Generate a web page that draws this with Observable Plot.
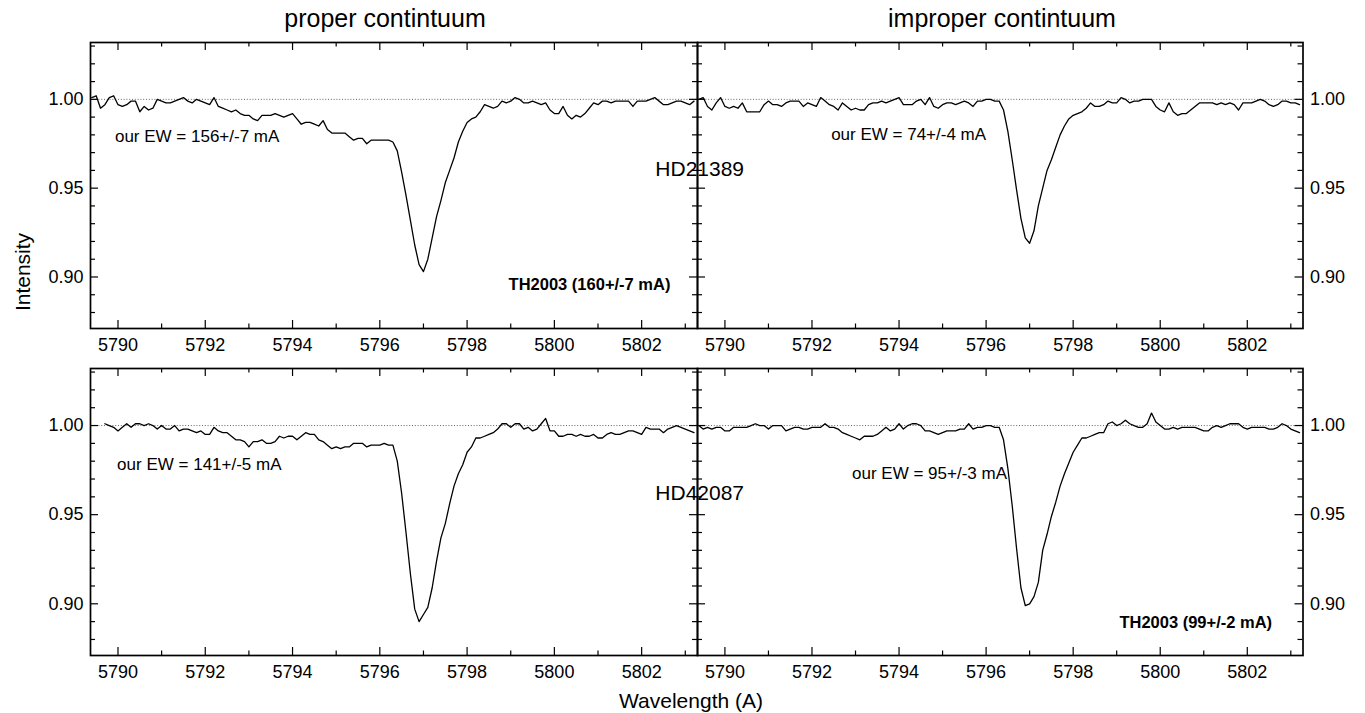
<!DOCTYPE html>
<html><head><meta charset="utf-8">
<script src="https://cdn.jsdelivr.net/npm/d3@7"></script>
<script src="https://cdn.jsdelivr.net/npm/@observablehq/plot@0.6"></script>
<style>
body{margin:0;background:#fff;}
#chart{position:relative;width:1365px;height:713px;font-family:"Liberation Sans",Arial,Helvetica,sans-serif;color:#000;overflow:hidden;}
#chart svg{position:absolute;left:0;top:0;}
.lbl{position:absolute;white-space:nowrap;transform:translate(-50%,-50%);line-height:1;}
</style></head><body><div id="chart"></div>
<script>
// Shared wavelength grid (Angstrom)
const wavelengths = [5789.4,5789.5,5789.6,5789.7,5789.8,5789.9,
5790.0,5790.1,5790.2,5790.3,5790.4,5790.5,5790.6,5790.7,5790.8,5790.9,
5791.0,5791.1,5791.2,5791.3,5791.4,5791.5,5791.6,5791.7,5791.8,5791.9,
5792.0,5792.1,5792.2,5792.3,5792.4,5792.5,5792.6,5792.7,5792.8,5792.9,
5793.0,5793.1,5793.2,5793.3,5793.4,5793.5,5793.6,5793.7,5793.8,5793.9,
5794.0,5794.1,5794.2,5794.3,5794.4,5794.5,5794.6,5794.7,5794.8,5794.9,
5795.0,5795.1,5795.2,5795.3,5795.4,5795.5,5795.6,5795.7,5795.8,5795.9,
5796.0,5796.1,5796.2,5796.3,5796.4,5796.5,5796.6,5796.7,5796.8,5796.9,
5797.0,5797.1,5797.2,5797.3,5797.4,5797.5,5797.6,5797.7,5797.8,5797.9,
5798.0,5798.1,5798.2,5798.3,5798.4,5798.5,5798.6,5798.7,5798.8,5798.9,
5799.0,5799.1,5799.2,5799.3,5799.4,5799.5,5799.6,5799.7,5799.8,5799.9,
5800.0,5800.1,5800.2,5800.3,5800.4,5800.5,5800.6,5800.7,5800.8,5800.9,
5801.0,5801.1,5801.2,5801.3,5801.4,5801.5,5801.6,5801.7,5801.8,5801.9,
5802.0,5802.1,5802.2,5802.3,5802.4,5802.5,5802.6,5802.7,5802.8,5802.9,
5803.0,5803.1,5803.2];

// HD21389, proper continuum
const hd21389Proper = [1.001,1.002,0.995,0.997,1.001,1.002,0.997,0.996,0.997,0.999,
0.999,0.993,0.996,0.994,0.995,1.000,0.999,0.998,0.998,0.999,
1.000,1.001,0.999,0.998,1.000,0.999,0.998,0.997,1.001,0.996,
0.995,0.994,0.993,0.994,0.992,0.991,0.991,0.989,0.988,0.991,
0.991,0.991,0.992,0.991,0.990,0.991,0.992,0.989,0.986,0.987,
0.987,0.986,0.985,0.988,0.983,0.981,0.981,0.981,0.981,0.979,
0.977,0.978,0.978,0.975,0.977,0.977,0.977,0.977,0.977,0.976,
0.971,0.959,0.946,0.932,0.918,0.907,0.903,0.910,0.922,0.934,
0.943,0.953,0.960,0.967,0.976,0.982,0.987,0.989,0.990,0.993,
0.997,0.996,0.995,0.996,0.999,0.998,0.999,1.001,1.000,0.998,
0.998,0.999,0.998,0.997,0.998,0.994,0.992,0.992,0.996,0.991,
0.989,0.991,0.990,0.992,0.995,0.998,0.997,0.999,0.999,0.998,
0.999,0.999,0.999,0.999,0.996,0.999,0.999,0.999,1.000,1.001,
0.999,0.997,0.997,0.998,0.999,0.999,0.998,0.997,0.999];

// HD21389, improper continuum
const hd21389Improper = [1.000,1.001,0.996,0.994,0.998,1.001,0.996,0.995,0.996,0.995,
0.998,0.993,0.993,0.993,0.993,0.997,0.999,0.997,0.997,0.996,
0.998,0.999,0.999,0.999,0.996,0.998,0.997,0.996,1.001,0.999,
0.997,0.996,0.994,0.998,0.996,0.994,0.995,0.994,0.994,0.997,
0.998,0.998,0.999,0.998,0.999,1.000,1.001,0.997,0.997,0.997,
0.999,1.000,0.997,1.001,0.996,0.995,0.997,0.998,0.998,0.997,
0.998,0.999,0.998,0.996,0.999,0.999,1.000,1.000,0.999,0.999,
0.994,0.982,0.966,0.949,0.933,0.922,0.919,0.926,0.940,0.950,
0.960,0.966,0.973,0.980,0.985,0.989,0.991,0.992,0.993,0.995,
0.998,0.996,0.996,0.997,0.999,0.998,0.998,1.001,1.000,0.998,
0.999,0.999,1.000,1.000,1.000,0.996,0.994,0.993,0.998,0.993,
0.991,0.992,0.992,0.994,0.996,0.998,0.998,0.998,0.998,0.997,
0.998,0.997,0.998,0.997,0.994,0.998,0.998,0.998,0.999,1.000,
0.999,0.997,0.996,0.997,0.999,0.999,0.998,0.998,0.997];

// HD42087, proper continuum (spectrum starts at 5789.7)
const hd42087Proper = [null,null,null,1.001,1.000,0.999,0.997,0.999,1.001,0.999,
1.001,1.001,1.000,1.001,1.000,0.998,1.000,0.998,0.998,1.000,
0.997,0.998,0.998,0.997,0.996,0.997,0.995,0.995,0.999,0.997,
0.996,0.996,0.994,0.992,0.992,0.991,0.988,0.991,0.991,0.992,
0.990,0.990,0.991,0.994,0.993,0.994,0.994,0.992,0.994,0.996,
0.995,0.995,0.992,0.991,0.989,0.987,0.988,0.987,0.988,0.988,
0.990,0.990,0.990,0.988,0.989,0.989,0.989,0.990,0.989,0.989,
0.980,0.962,0.940,0.917,0.897,0.890,0.894,0.898,0.909,0.924,
0.937,0.945,0.956,0.966,0.973,0.978,0.985,0.988,0.993,0.993,
0.994,0.995,0.996,0.998,1.001,1.001,0.999,1.001,1.001,0.998,
0.999,0.997,0.998,1.001,1.004,0.997,0.997,0.994,0.994,0.995,
0.995,0.994,0.995,0.994,0.994,0.995,0.993,0.993,0.995,0.996,
0.995,0.995,0.996,0.997,0.997,0.996,0.995,0.999,0.998,0.998,
0.998,0.996,0.998,0.999,1.000,0.999,0.998,0.997,0.996];

// HD42087, improper continuum
const hd42087Improper = [1.000,0.998,0.999,0.998,0.999,0.999,0.997,0.997,0.999,0.999,
0.999,0.999,1.000,1.001,1.000,1.000,0.998,1.000,1.000,1.000,
0.997,0.998,0.999,0.999,0.998,0.998,0.999,0.999,0.999,1.001,
0.999,0.999,0.998,0.996,0.995,0.994,0.993,0.992,0.994,0.994,
0.994,0.995,0.997,0.999,0.997,0.998,1.001,0.998,1.000,1.001,
1.001,1.000,0.997,0.997,0.996,0.995,0.996,0.997,0.997,0.997,
0.998,0.998,1.001,0.998,0.999,0.999,1.000,1.000,0.999,0.999,
0.992,0.976,0.955,0.931,0.909,0.899,0.900,0.904,0.912,0.930,
0.939,0.949,0.957,0.966,0.973,0.979,0.985,0.989,0.993,0.993,
0.994,0.995,0.996,0.996,1.001,1.002,1.000,1.001,1.003,1.001,
1.000,0.999,0.999,1.001,1.007,1.002,1.000,0.998,0.998,0.999,
0.998,0.999,0.999,0.999,0.999,0.998,0.997,0.997,0.999,1.000,
0.999,1.000,1.001,1.001,1.001,0.999,0.998,0.999,0.999,0.999,
0.999,0.998,0.998,0.999,1.001,1.000,0.998,0.997,0.996];

const xTicksMajor = [5790,5792,5794,5796,5798,5800,5802];
const xTicksMinor = [5791,5793,5795,5797,5799,5801,5803];
const yTicksMajor = [0.90,0.95,1.00];
const yTicksMinor = [0.88,0.89,0.91,0.92,0.93,0.94,0.96,0.97,0.98,0.99,1.01,1.02,1.03];
const xDomain = [5789.37, 5803.28];
const yDomain = [0.871, 1.032];

const columnTitles = ["proper contintuum", "improper contintuum"];
const starNames = ["HD21389", "HD42087"];
const ourEW = ["our EW = 156+/-7 mA", "our EW = 74+/-4 mA", "our EW = 141+/-5 mA", "our EW = 95+/-3 mA"];
const th2003 = ["TH2003 (160+/-7 mA)", "TH2003 (99+/-2 mA)"];
const xLabel = "Wavelength (A)";
const yLabel = "Intensity";

const FONT = '"Liberation Sans", Arial, Helvetica, sans-serif';
const W = 1365, H = 713;
const cols = {left: [90, 697], right: [697, 1302.5]};
const rows = {top: [42, 328], bottom: [368, 655]};

function panel(col, row, values, notes) {
  const [x0, x1] = cols[col], [y0, y1] = rows[row];
  const iw = x1 - x0, ih = y1 - y0;
  const data = wavelengths.map((w, i) => ({w, v: values[i]}));
  const tk = {stroke: "#000", strokeWidth: 1.2};
  return Plot.plot({
    width: W, height: H,
    marginLeft: x0, marginRight: W - x1, marginTop: y0, marginBottom: H - y1,
    style: {background: "transparent", overflow: "visible", fontFamily: FONT, fontSize: "18px", color: "#000"},
    x: {domain: xDomain, ticks: xTicksMajor, tickSize: 0, tickPadding: 10, tickFormat: d => String(d), label: null},
    y: {domain: yDomain, ticks: yTicksMajor, tickSize: 0, tickPadding: 7, tickFormat: d => d.toFixed(2), label: null, axis: col === "left" ? "left" : "right"},
    marks: [
      Plot.ruleY([1], {stroke: "#555", strokeDasharray: "1,1.8", strokeWidth: 0.9}),
      Plot.line(data, {x: "w", y: "v", stroke: "#000", strokeWidth: 1.3}),
      Plot.tickX(xTicksMajor, {x: d => d, insetTop: ih - 8, ...tk}),
      Plot.tickX(xTicksMajor, {x: d => d, insetBottom: ih - 8, ...tk}),
      Plot.tickX(xTicksMinor, {x: d => d, insetTop: ih - 4.5, ...tk}),
      Plot.tickX(xTicksMinor, {x: d => d, insetBottom: ih - 4.5, ...tk}),
      Plot.tickY(yTicksMajor, {y: d => d, insetRight: iw - 8, ...tk}),
      Plot.tickY(yTicksMajor, {y: d => d, insetLeft: iw - 8, ...tk}),
      Plot.tickY(yTicksMinor, {y: d => d, insetRight: iw - 5, ...tk}),
      Plot.tickY(yTicksMinor, {y: d => d, insetLeft: iw - 5, ...tk}),
      Plot.frame({stroke: "#000", strokeWidth: 1.7}),
      ...notes.map(n => Plot.text([n], {x: "x", y: "y", text: "text", textAnchor: n.anchor, fontSize: n.size, fontWeight: n.weight || "normal", fontFamily: FONT, fill: "#000"}))
    ]
  });
}

const chart = document.getElementById("chart");
chart.append(panel("left", "top", hd21389Proper, [
  {x: 5789.93, y: 0.979, text: ourEW[0], anchor: "start", size: 17},
  {x: 5803.33, y: 0.9607, text: starNames[0], anchor: "middle", size: 21},
  {x: 5802.66, y: 0.8955, text: th2003[0], anchor: "end", size: 16.5, weight: "bold"}
]));
chart.append(panel("right", "top", hd21389Improper, [
  {x: 5792.44, y: 0.9803, text: ourEW[1], anchor: "start", size: 17}
]));
chart.append(panel("left", "bottom", hd42087Proper, [
  {x: 5789.98, y: 0.9782, text: ourEW[2], anchor: "start", size: 17},
  {x: 5803.33, y: 0.962, text: starNames[1], anchor: "middle", size: 21}
]));
chart.append(panel("right", "bottom", hd42087Improper, [
  {x: 5792.92, y: 0.9732, text: ourEW[3], anchor: "start", size: 17},
  {x: 5802.57, y: 0.8894, text: th2003[1], anchor: "end", size: 16.5, weight: "bold"}
]));

function label(text, x, y, size, rotate) {
  const d = document.createElement("div");
  d.className = "lbl";
  d.textContent = text;
  d.style.left = x + "px";
  d.style.top = y + "px";
  d.style.fontSize = size + "px";
  if (rotate) d.style.transform = "translate(-50%,-50%) rotate(-90deg)";
  chart.append(d);
}
label(columnTitles[0], 385, 18, 25);
label(columnTitles[1], 1002, 18, 25);
label(yLabel, 22, 272, 21, true);
label(xLabel, 691, 700, 21);
</script></body></html>
